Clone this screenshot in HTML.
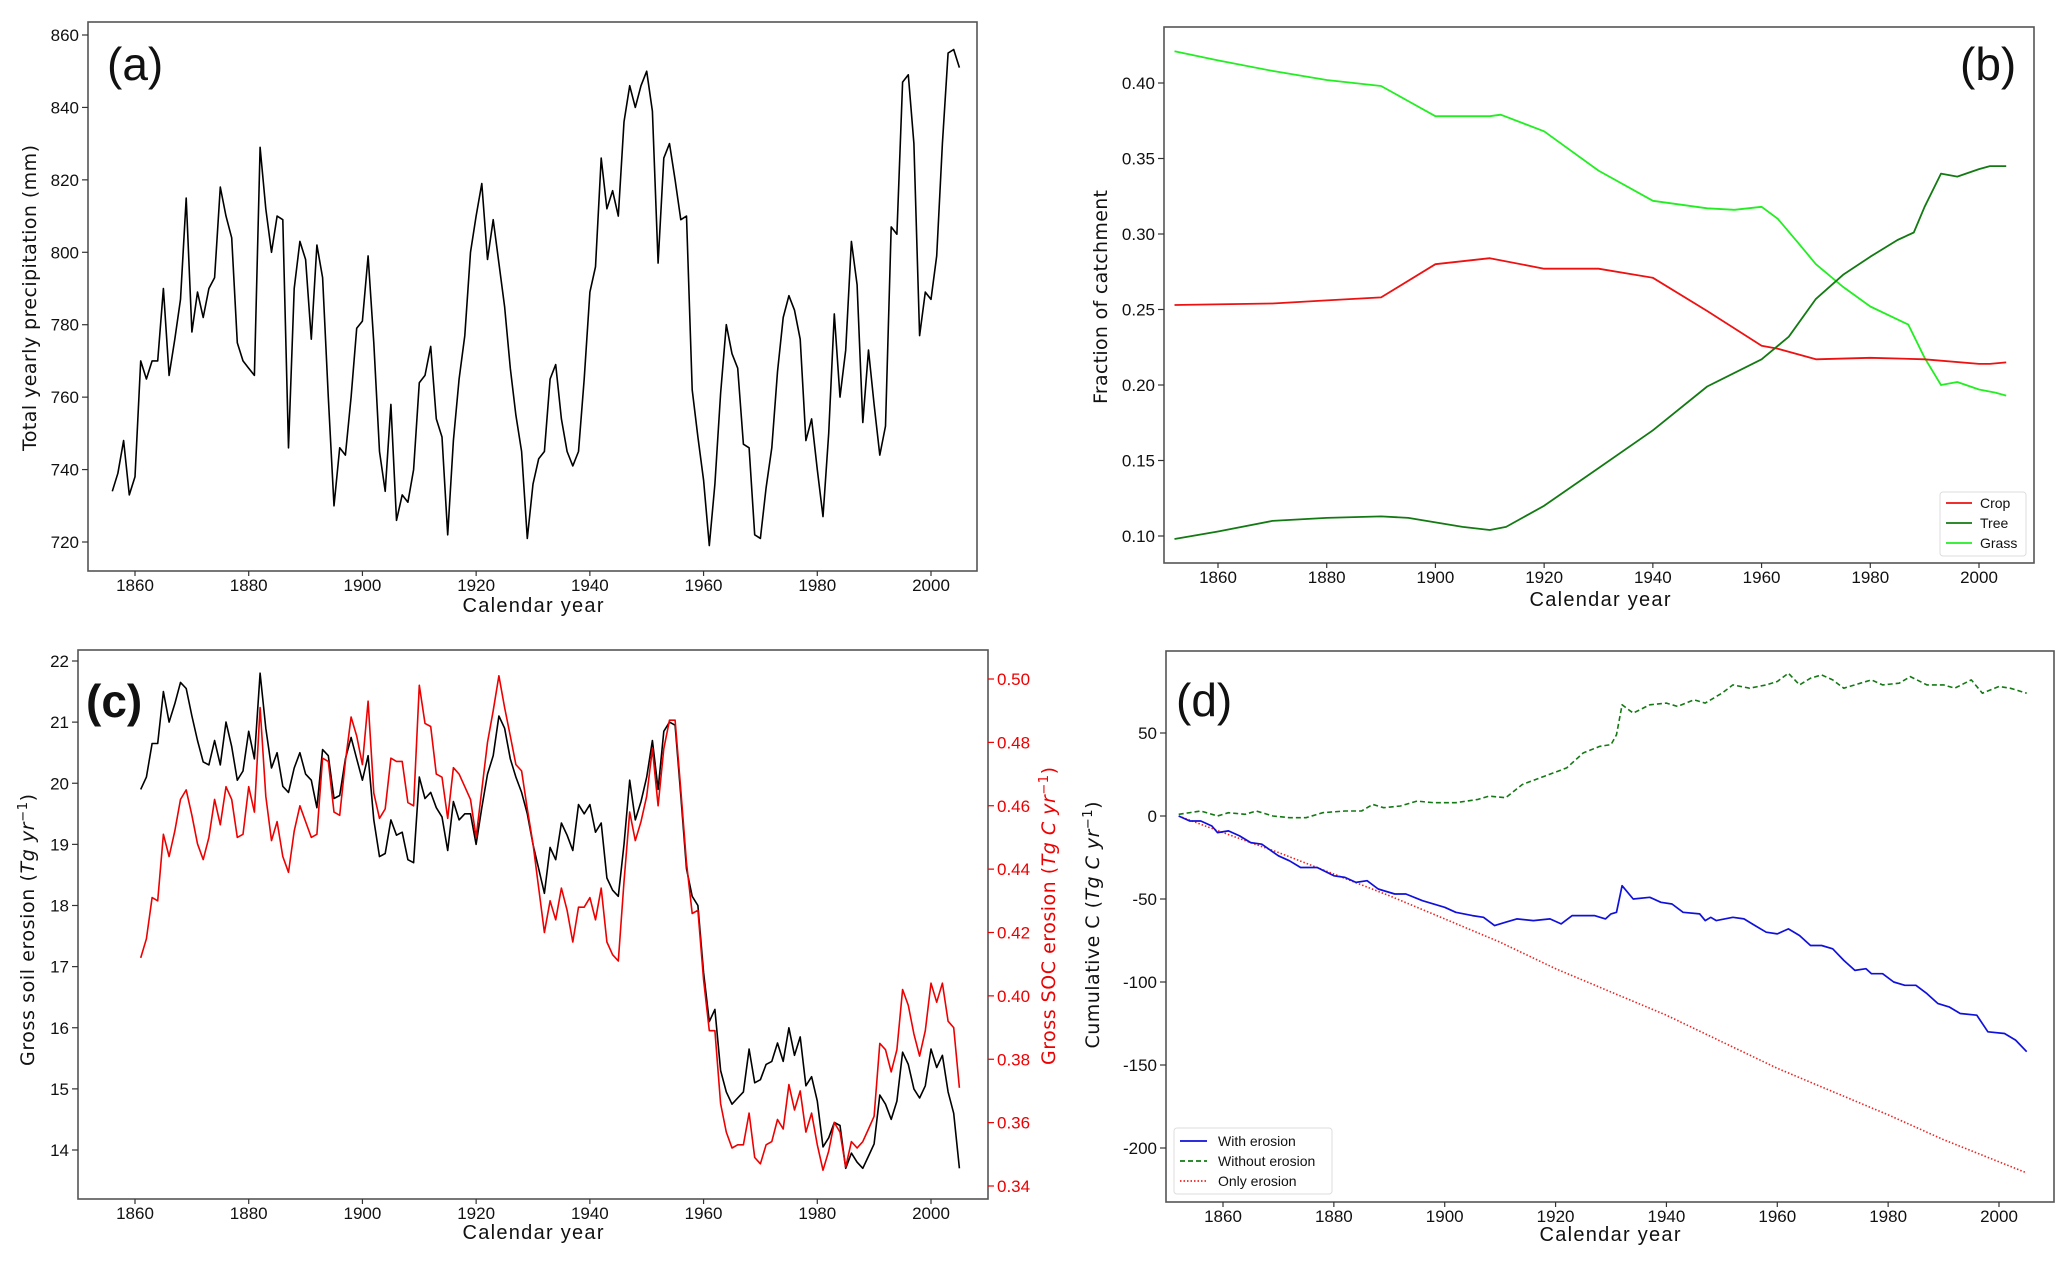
<!DOCTYPE html>
<html><head><meta charset="utf-8"><style>
html,body{margin:0;padding:0;background:#fff;}
svg{display:block;font-family:"Liberation Sans",sans-serif;}
</style></head><body>
<svg id="fig" width="2067" height="1266" viewBox="0 0 2067 1266"></svg>
<script>
// ---------- Panel (a) data ----------
const precipStart = 1856;
const precipValues = [734,739,748,733,738,770,765,770,770,790,766,776,787,815,778,789,782,790,793,818,810,804,775,770,768,766,829,812,800,810,809,746,790,803,798,776,802,793,760,730,746,744,760,779,781,799,775,745,734,758,726,733,731,740,764,766,774,754,749,722,748,765,777,800,810,819,798,809,797,785,768,755,745,721,736,743,745,765,769,754,745,741,745,765,789,796,826,812,817,810,836,846,840,846,850,839,797,826,830,820,809,810,762,749,737,719,736,761,780,772,768,747,746,722,721,735,746,767,782,788,784,776,748,754,740,727,750,783,760,773,803,791,753,773,758,744,752,807,805,847,849,830,777,789,787,799,830,855,856,851];
const precipTicks = [720,740,760,780,800,820,840,860];
const yearTicks = [1860,1880,1900,1920,1940,1960,1980,2000];

// ---------- Panel (b) data ----------
const grassYears = [1852,1860,1870,1880,1890,1895,1900,1910,1912,1920,1930,1940,1950,1955,1960,1963,1967,1970,1975,1980,1987,1990,1993,1996,2000,2003,2005];
const grassValues = [.421,.415,.408,.402,.398,.388,.378,.378,.379,.368,.342,.322,.317,.316,.318,.310,.293,.280,.265,.252,.240,.218,.200,.202,.197,.195,.193];
const cropYears = [1852,1870,1880,1890,1900,1910,1920,1930,1940,1950,1960,1963,1970,1980,1990,2000,2002,2005];
const cropValues = [.253,.254,.256,.258,.280,.284,.277,.277,.271,.249,.226,.224,.217,.218,.217,.214,.214,.215];
const treeYears = [1852,1860,1870,1880,1890,1895,1900,1905,1910,1913,1920,1930,1940,1950,1960,1965,1970,1975,1980,1985,1988,1990,1993,1996,2000,2002,2005];
const treeValues = [.098,.103,.110,.112,.113,.112,.109,.106,.104,.106,.120,.145,.170,.199,.217,.232,.257,.273,.285,.296,.301,.318,.340,.338,.343,.345,.345];
const fracTicks = [0.10,0.15,0.20,0.25,0.30,0.35,0.40];

// ---------- Panel (c) data ----------
const erosionStart = 1861;
const soilErosion = [19.9,20.1,20.65,20.65,21.5,21.0,21.3,21.65,21.55,21.1,20.7,20.35,20.3,20.7,20.3,21.0,20.6,20.05,20.2,20.85,20.4,21.8,20.9,20.25,20.5,19.95,19.85,20.25,20.5,20.15,20.05,19.6,20.55,20.45,19.75,19.8,20.4,20.75,20.4,20.05,20.45,19.4,18.8,18.85,19.4,19.15,19.2,18.75,18.7,20.1,19.75,19.85,19.6,19.45,18.9,19.7,19.4,19.5,19.5,19.0,19.6,20.15,20.45,21.1,20.9,20.4,20.1,19.85,19.5,19.0,18.6,18.2,18.95,18.75,19.35,19.15,18.9,19.65,19.5,19.65,19.2,19.35,18.45,18.25,18.15,19.0,20.05,19.4,19.7,20.1,20.7,19.9,20.85,21.0,20.95,19.8,18.6,18.15,18.0,16.9,16.1,16.3,15.3,14.95,14.75,14.85,14.95,15.65,15.1,15.15,15.4,15.45,15.75,15.45,16.0,15.55,15.85,15.05,15.2,14.8,14.05,14.2,14.45,14.4,13.7,13.95,13.8,13.7,13.9,14.1,14.9,14.75,14.5,14.8,15.6,15.4,15.0,14.85,15.05,15.65,15.35,15.55,14.95,14.6,13.7];
const socErosion = [.412,.418,.431,.430,.451,.444,.452,.462,.465,.457,.448,.443,.450,.462,.454,.466,.462,.450,.451,.466,.458,.491,.463,.449,.455,.444,.439,.452,.460,.455,.450,.451,.475,.474,.458,.457,.474,.488,.482,.473,.493,.464,.456,.459,.475,.474,.474,.461,.460,.498,.486,.485,.470,.469,.456,.472,.470,.466,.462,.450,.465,.480,.490,.501,.491,.482,.473,.471,.459,.448,.434,.420,.430,.424,.434,.427,.417,.428,.428,.431,.424,.434,.417,.413,.411,.436,.458,.449,.455,.463,.478,.460,.478,.487,.487,.465,.442,.426,.427,.405,.389,.389,.366,.357,.352,.353,.353,.363,.349,.347,.353,.354,.361,.358,.372,.364,.370,.357,.363,.353,.345,.351,.360,.357,.346,.354,.352,.354,.358,.362,.385,.383,.376,.383,.402,.397,.388,.381,.389,.404,.398,.404,.392,.390,.371];
const soilTicks = [14,15,16,17,18,19,20,21,22];
const socTicks = [0.34,0.36,0.38,0.40,0.42,0.44,0.46,0.48,0.50];

// ---------- Panel (d) data ----------
const withYears = [1852,1854,1856,1858,1859,1861,1863,1865,1867,1870,1872,1874,1877,1880,1882,1884,1886,1888,1891,1893,1896,1900,1902,1905,1907,1909,1911,1913,1916,1919,1921,1923,1927,1929,1930,1931,1932,1934,1937,1939,1941,1943,1946,1947,1948,1949,1952,1954,1956,1958,1960,1962,1964,1966,1968,1970,1972,1974,1976,1977,1979,1981,1983,1985,1987,1989,1991,1993,1996,1998,2001,2003,2005];
const withValues = [0,-3,-3,-6,-10,-9,-12,-16,-17,-24,-27,-31,-31,-36,-37,-40,-39,-44,-47,-47,-51,-55,-58,-60,-61,-66,-64,-62,-63,-62,-65,-60,-60,-62,-59,-58,-42,-50,-49,-52,-53,-58,-59,-63,-61,-63,-61,-62,-66,-70,-71,-68,-72,-78,-78,-80,-87,-93,-92,-95,-95,-100,-102,-102,-107,-113,-115,-119,-120,-130,-131,-135,-142];
const withoutYears = [1852,1856,1859,1861,1864,1866,1869,1872,1875,1878,1882,1885,1887,1889,1892,1895,1898,1902,1906,1908,1911,1914,1918,1922,1925,1928,1930,1931,1932,1934,1937,1940,1942,1945,1947,1950,1952,1955,1958,1960,1962,1964,1966,1968,1970,1972,1975,1977,1979,1982,1984,1987,1990,1992,1995,1997,2000,2002,2005];
const withoutValues = [1,3,0,2,1,3,0,-1,-1,2,3,3,7,5,6,9,8,8,10,12,11,19,24,29,38,42,43,49,67,62,67,68,66,70,68,74,79,77,79,81,86,79,83,85,82,77,80,82,79,80,84,79,79,77,82,74,78,77,74];
const onlyYears = [1852,1860,1870,1880,1890,1900,1910,1920,1930,1940,1950,1960,1970,1980,1990,2005];
const onlyValues = [0,-10,-22,-35,-48,-62,-76,-92,-106,-120,-136,-152,-166,-180,-195,-215];
const cumTicks = [-200,-150,-100,-50,0,50];

const NS = "http://www.w3.org/2000/svg";
const svg = document.getElementById('fig');
function mk(tag, attrs, parent){
  const e = document.createElementNS(NS, tag);
  for (const k in attrs) e.setAttribute(k, attrs[k]);
  (parent||svg).appendChild(e);
  return e;
}
function lin(d0,d1,r0,r1){ return v => r0 + (v-d0)*(r1-r0)/(d1-d0); }
function fmt(v,dec){ return dec ? v.toFixed(dec) : String(v); }

function frame(g, L,T,R,B){
  const r = mk('rect',{x:L,y:T,width:R-L,height:B-T,fill:'none',stroke:'#555','stroke-width':1.6},g);
  
  
}
function xTicks_list(g, xs, B){
  yearTicks.forEach(yr=>{
    const x = xs(yr);
    const t = mk('line',{x1:x,y1:B,x2:x,y2:B+5,stroke:'#333','stroke-width':1.2},g);
    
    
    const l = mk('text',{x:x,y:B+20,'font-size':17,'text-anchor':'middle',fill:'#111'},g);
    l.textContent = yr;
    
    
  });
}
function yTicks(g, ticks, ys, L, dec, right, color){
  ticks.forEach(v=>{
    const y = ys(v);
    const x2 = right ? L+6 : L-6;
    const t = mk('line',{x1:L,y1:y,x2:x2,y2:y,stroke:color||'#333','stroke-width':1.2},g);
    
    
    const l = mk('text',{x: right ? L+9 : L-9, y:y+6,'font-size':17,'text-anchor': right?'start':'end',fill:color||'#111'},g);
    l.textContent = fmt(v,dec);
    
    
  });
}
function series(g, xsArr, ysArr, xs, ys, color, width, dash, name){
  const d = xsArr.map((x,i)=>(i?'L':'M')+xs(x).toFixed(1)+','+ys(ysArr[i]).toFixed(1)).join('');
  const p = mk('path',{d:d,fill:'none',stroke:color,'stroke-width':width,'stroke-linejoin':'round'},g);
  if (dash) p.setAttribute('stroke-dasharray',dash);
  
  
  return p;
}
function text(g, x, y, s, size, opts){
  const t = mk('text',Object.assign({x:x,y:y,'font-size':size,fill:'#111'},opts||{}),g);
  t.textContent = s;
  return t;
}
function years(start, n){ const a=[]; for(let i=0;i<n;i++) a.push(start+i); return a; }

// ===== Panel a =====
(function(){
  const g = mk('g',{});
  
  
  const L=88,T=22,R=977,B=571;
  const xs = lin(1860,2000,135,931), ys = lin(720,860,542,35);
  frame(g,L,T,R,B);
  xTicks_list(g,xs,B);
  yTicks(g,precipTicks,ys,L,0);
  series(g, years(precipStart,precipValues.length), precipValues, xs, ys, '#000', 1.6, null, 'precipitation-line');
  const lt = text(g,107,80,'(a)',46);
  
  
  const xl = text(g,533,612,'Calendar year',20,{'text-anchor':'middle',textLength:141});
  
  
  const yl = text(g,0,0,'Total yearly precipitation (mm)',19,{'text-anchor':'middle',transform:'translate(36,298) rotate(-90)',textLength:306,'font-family':'DejaVu Sans, sans-serif'});
  
  
})();

// ===== Panel b =====
(function(){
  const g = mk('g',{});
  
  
  const L=1164,T=27,R=2034,B=563;
  const xs = lin(1860,2000,1218,1979), ys = lin(0.10,0.40,536,83);
  frame(g,L,T,R,B);
  xTicks_list(g,xs,B);
  yTicks(g,fracTicks,ys,L,2);
  series(g, grassYears, grassValues, xs, ys, '#22ee22', 1.8, null, 'grass-line');
  series(g, cropYears, cropValues, xs, ys, '#ee1111', 1.8, null, 'crop-line');
  series(g, treeYears, treeValues, xs, ys, '#137a13', 1.8, null, 'tree-line');
  const lt = text(g,1960,80,'(b)',46);
  
  
  const xl = text(g,1600,606,'Calendar year',20,{'text-anchor':'middle',textLength:141});
  
  
  const yl = text(g,0,0,'Fraction of catchment',19,{'text-anchor':'middle',transform:'translate(1107,297) rotate(-90)',textLength:214,'font-family':'DejaVu Sans, sans-serif'});
  
  
  const lg = mk('g',{});
  g.appendChild(lg);
  
  
  mk('rect',{x:1940,y:492,width:86,height:64,fill:'#fff',stroke:'#ddd','stroke-width':1,rx:3},lg);
  [['Crop','#ee1111',503],['Tree','#137a13',523],['Grass','#22ee22',543]].forEach(e=>{
    const it = mk('g',{},lg);
    
    
    mk('line',{x1:1946,y1:e[2],x2:1972,y2:e[2],stroke:e[1],'stroke-width':1.8},it);
    text(it,1980,e[2]+5,e[0],14);
  });
})();

// ===== Panel c =====
(function(){
  const g = mk('g',{});
  
  
  const L=78,T=650,R=988,B=1199;
  const xs = lin(1860,2000,135,931), ys = lin(14,22,1150,661), ys2 = lin(0.34,0.50,1186,679);
  frame(g,L,T,R,B);
  xTicks_list(g,xs,B);
  yTicks(g,soilTicks,ys,L,0);
  yTicks(g,socTicks,ys2,R,2,true,'#e00');
  const yr = years(erosionStart, soilErosion.length);
  series(g, yr, soilErosion, xs, ys, '#000', 1.6, null, 'soil-erosion-line');
  series(g, yr, socErosion, xs, ys2, '#ee0000', 1.6, null, 'soc-erosion-line');
  const lt = text(g,86,717,'(c)',46,{'font-weight':'bold'});
  
  
  const xl = text(g,533,1239,'Calendar year',20,{'text-anchor':'middle',textLength:141});
  
  
  const yl = mk('text',{'text-anchor':'middle',transform:'translate(34,930) rotate(-90)','font-size':19,fill:'#111','font-family':'DejaVu Sans, sans-serif',textLength:272},g);
  yl.innerHTML = 'Gross  soil erosion (<tspan font-style="italic">Tg yr</tspan><tspan baseline-shift="super" font-size="13">−1</tspan>)';
  
  
  const yr2 = mk('text',{'text-anchor':'middle',transform:'translate(1055,916) rotate(-90)','font-size':19,fill:'#e00','font-family':'DejaVu Sans, sans-serif',textLength:298},g);
  yr2.innerHTML = 'Gross SOC erosion (<tspan font-style="italic">Tg C yr</tspan><tspan baseline-shift="super" font-size="13">−1</tspan>)';
  
  
})();

// ===== Panel d =====
(function(){
  const g = mk('g',{});
  
  
  const L=1166,T=651,R=2054,B=1202;
  const xs = lin(1860,2000,1223,1999), ys = lin(0,50,816,733);
  frame(g,L,T,R,B);
  xTicks_list(g,xs,B);
  yTicks(g,cumTicks,ys,L,0);
  series(g, onlyYears, onlyValues, xs, ys, '#ee2222', 1.6, '1.5 2', 'only-erosion-line');
  series(g, withoutYears, withoutValues, xs, ys, '#137a13', 1.6, '5 3', 'without-erosion-line');
  series(g, withYears, withValues, xs, ys, '#1010dd', 1.7, null, 'with-erosion-line');
  const lt = text(g,1176,716,'(d)',46);
  
  
  const xl = text(g,1610,1241,'Calendar year',20,{'text-anchor':'middle',textLength:141});
  
  
  const yl = mk('text',{'text-anchor':'middle',transform:'translate(1099,925) rotate(-90)','font-size':19,fill:'#111','font-family':'DejaVu Sans, sans-serif',textLength:247},g);
  yl.innerHTML = 'Cumulative C (<tspan font-style="italic">Tg C yr</tspan><tspan baseline-shift="super" font-size="13">−1</tspan>)';
  
  
  const lg = mk('g',{},g);
  
  
  mk('rect',{x:1174,y:1128,width:158,height:66,fill:'#fff',stroke:'#ddd','stroke-width':1,rx:3},lg);
  [['With erosion','#1010dd',1141,null],['Without erosion','#137a13',1161,'5 3'],['Only erosion','#ee2222',1181,'1.5 2']].forEach(e=>{
    const it = mk('g',{},lg);
    
    
    const ln = mk('line',{x1:1180,y1:e[2],x2:1207,y2:e[2],stroke:e[1],'stroke-width':1.8},it);
    if (e[3]) ln.setAttribute('stroke-dasharray',e[3]);
    text(it,1218,e[2]+5,e[0],14);
  });
})();
</script>
</body></html>
